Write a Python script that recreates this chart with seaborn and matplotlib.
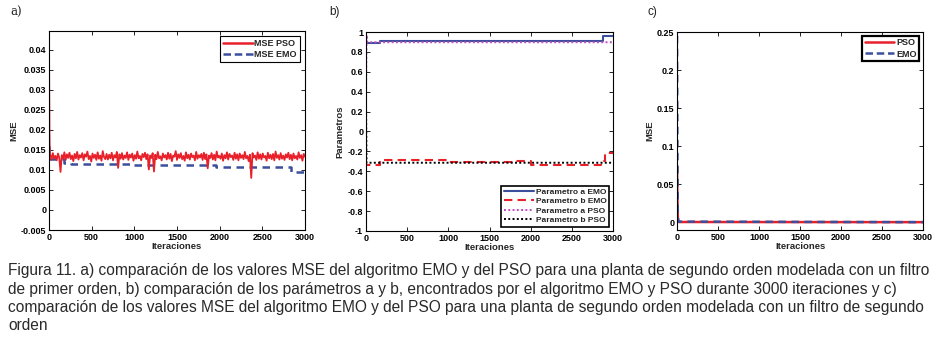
import numpy as np
import pandas as pd
import matplotlib
matplotlib.use("Agg")
import matplotlib.pyplot as plt
from matplotlib.lines import Line2D
from matplotlib.ticker import FuncFormatter, MultipleLocator
import seaborn as sns

# ---------------- data ----------------
# panel a) MSE, first-order filter
pso_a_start_iter = [0, 3, 6, 10]
pso_a_start_mse = [0.041, 0.030, 0.018, 0.0135]
pso_a_noise_e4 = [
    138, 126, 142, 129, 135, 124, 141, 131, 95, 137, 128, 144, 125, 139, 130, 143, 127, 136, 122, 140,
    129, 145, 126, 137, 131, 142, 124, 139, 133, 146, 127, 135, 121, 141, 130, 138, 125, 144, 128, 136,
    123, 147, 132, 127, 140, 126, 138, 129, 143, 124, 137, 131, 145, 105, 139, 128, 142, 126, 136, 130,
    144, 125, 138, 131, 141, 123, 137, 128, 146, 129, 135, 124, 140, 132, 143, 127, 139, 101, 136, 130,
    142, 96, 138, 127, 145, 129, 134, 124, 141, 131, 137, 126, 143, 128, 140, 122, 136, 133, 147, 125,
    139, 130, 142, 127, 135, 123, 144, 129, 138, 126, 141, 132, 136, 124, 145, 128, 137, 131, 140, 125,
    143, 127, 139, 104, 136, 130, 142, 126, 138, 124, 146, 131, 135, 128, 141, 123, 137, 129, 144, 126,
    140, 132, 136, 125, 143, 128, 139, 124, 141, 130, 137, 127, 145, 129, 135, 122, 138, 80, 142, 131,
    136, 125, 144, 128, 139, 126, 141, 131, 135, 123, 143, 129, 138, 127, 140, 124, 146, 130, 137, 126,
    142, 128, 136, 125, 139, 131, 143, 127, 138, 124, 141, 129, 135, 126, 144, 130, 137, 123, 140, 133,
]
emo_a_iter = [0, 5, 170, 260, 1000, 1960, 2840, 3000]
emo_a_mse = [0.0160, 0.0128, 0.0117, 0.0114, 0.0112, 0.0108, 0.0094, 0.0094]

# panel b) parameters
par_a_emo_iter = [0, 3, 170, 2880, 3000]
par_a_emo_val = [0.97, 0.885, 0.908, 0.962, 0.962]
par_b_emo_iter = [0, 3, 170, 1000, 1800, 2000, 2850, 2900, 3000]
par_b_emo_val = [-0.30, -0.332, -0.288, -0.31, -0.300, -0.332, -0.30, -0.22, -0.22]
par_a_pso_iter = [0, 6, 15, 3000]
par_a_pso_val = [0.30, 0.97, 0.897, 0.897]
par_b_pso_iter = [0, 6, 3000]
par_b_pso_val = [0.30, -0.314, -0.314]

# panel c) MSE, second-order filter
pso_c_iter = [0, 5, 10, 20, 3000]
pso_c_mse = [0.075, 0.030, 0.005, 0.0005, 0.0003]
emo_c_iter = [0, 4, 8, 15, 3000]
emo_c_mse = [0.245, 0.120, 0.020, 0.001, 0.0003]

caption_lines = [
    "Figura 11. a) comparación de los valores MSE del algoritmo EMO y del PSO para una planta de segundo orden modelada con un filtro",
    "de primer orden, b) comparación de los parámetros a y b, encontrados por el algoritmo EMO y PSO durante 3000 iteraciones y c)",
    "comparación de los valores MSE del algoritmo EMO y del PSO para una planta de segundo orden modelada con un filtro de segundo",
    "orden",
]

# ---------------- style ----------------
sns.set_style("ticks")
plt.rcParams['font.family'] = ['Liberation Sans', 'DejaVu Sans']
plt.rcParams['font.weight'] = 'bold'

RED = '#e8202a'
BLUE = '#3b4f9c'
PINK = '#c04cc0'

W, H = 936, 350
fig = plt.figure(figsize=(W / 100, H / 100), dpi=100)


def box(x0, y0, x1, y1):
    return [x0 / W, 1 - y1 / H, (x1 - x0) / W, (y1 - y0) / H]


fmt = FuncFormatter(lambda v, p: ('%g' % round(v, 6)))


def style_ax(ax, ylabel):
    ax.set_xlim(0, 3000)
    ax.xaxis.set_major_locator(MultipleLocator(500))
    ax.yaxis.set_major_formatter(fmt)
    ax.tick_params(direction='in', top=True, right=True, length=3, width=0.6,
                   labelsize=6.5, pad=2, colors='black')
    for lab in ax.get_xticklabels() + ax.get_yticklabels():
        lab.set_fontweight('bold')
    for s in ax.spines.values():
        s.set_visible(True)
        s.set_linewidth(0.8)
        s.set_color('black')
    ax.set_xlabel('Iteraciones', fontsize=6.8, fontweight='bold', labelpad=0)
    ax.set_ylabel(ylabel, fontsize=6.8, fontweight='bold', labelpad=2)


# ---- panel a
axa = fig.add_axes(box(49, 31, 305, 230))
pso_iter = list(pso_a_start_iter) + list(np.arange(15, 3001, 15))
pso_val = list(pso_a_start_mse) + [v * 1e-4 for v in pso_a_noise_e4]
sns.lineplot(x=emo_a_iter, y=emo_a_mse, ax=axa, color=BLUE, lw=1.8,
             linestyle=(0, (3, 2.2)), drawstyle='steps-post', estimator=None)
sns.lineplot(x=pso_iter, y=pso_val, ax=axa, color=RED, lw=1.3, estimator=None)
axa.yaxis.set_major_locator(MultipleLocator(0.005))
style_ax(axa, 'MSE')
axa.set_ylim(-0.005, 0.0447)
ha = [Line2D([], [], color=RED, lw=1.8), Line2D([], [], color=BLUE, lw=1.8, linestyle=(0, (3, 1.5)))]
lga = axa.legend(ha, ['MSE PSO', 'MSE EMO'], loc='upper right', handlelength=3.3,
                 handletextpad=0.2, borderpad=0.3, labelspacing=0.25, fancybox=False,
                 edgecolor='black', framealpha=1, borderaxespad=0.6, prop={'weight': 'bold', 'size': 6.5})
lga.get_frame().set_linewidth(0.8)

# ---- panel b
axb = fig.add_axes(box(366, 32, 613, 231))
sns.lineplot(x=par_a_emo_iter, y=par_a_emo_val, ax=axb, color=BLUE, lw=1.5,
             drawstyle='steps-post', estimator=None)
sns.lineplot(x=par_b_emo_iter, y=par_b_emo_val, ax=axb, color=RED, lw=1.5,
             linestyle=(0, (4, 2.5)), drawstyle='steps-post', estimator=None)
sns.lineplot(x=par_a_pso_iter, y=par_a_pso_val, ax=axb, color=PINK, lw=1.4,
             linestyle=(0, (1, 1.2)), estimator=None)
sns.lineplot(x=par_b_pso_iter, y=par_b_pso_val, ax=axb, color='black', lw=1.4,
             linestyle=(0, (1, 1.2)), estimator=None)
axb.yaxis.set_major_locator(MultipleLocator(0.2))
style_ax(axb, 'Parametros')
axb.set_ylim(-1, 1)
hb = [Line2D([], [], color=BLUE, lw=1.5),
      Line2D([], [], color=RED, lw=1.5, linestyle=(0, (4, 2.5))),
      Line2D([], [], color=PINK, lw=1.4, linestyle=(0, (1, 1.2))),
      Line2D([], [], color='black', lw=1.4, linestyle=(0, (1, 1.2)))]
lgb = axb.legend(hb, ['Parametro a EMO', 'Parametro b EMO', 'Parametro a PSO', 'Parametro b PSO'],
                 loc='lower right', handlelength=3.6, handletextpad=0.2, borderpad=0.3,
                 labelspacing=0.2, fancybox=False, edgecolor='black', framealpha=1,
                 borderaxespad=0.5, prop={'weight': 'bold', 'size': 6.0})
lgb.get_frame().set_linewidth(1.2)

# ---- panel c
axc = fig.add_axes(box(677, 32, 923, 230))
sns.lineplot(x=pso_c_iter, y=pso_c_mse, ax=axc, color=RED, lw=1.8, estimator=None)
sns.lineplot(x=emo_c_iter, y=emo_c_mse, ax=axc, color=BLUE, lw=1.8,
             linestyle=(0, (3, 2.2)), estimator=None)
axc.yaxis.set_major_locator(MultipleLocator(0.05))
style_ax(axc, 'MSE')
axc.set_ylim(-0.01, 0.25)
hc = [Line2D([], [], color=RED, lw=1.8), Line2D([], [], color=BLUE, lw=1.8, linestyle=(0, (3, 1.5)))]
lgc = axc.legend(hc, ['PSO', 'EMO'], loc='upper right', handlelength=3.3, handletextpad=0.2,
                 borderpad=0.3, labelspacing=0.25, fancybox=False, edgecolor='black',
                 framealpha=1, borderaxespad=0.4, prop={'weight': 'bold', 'size': 6.5})
lgc.get_frame().set_linewidth(1.6)

# panel letters
fig.text(10 / W, 1 - 12 / H, 'a)', fontsize=8.5, fontweight='normal', family='DejaVu Serif',
         va='center', ha='left', color='#222222')
fig.text(329 / W, 1 - 12 / H, 'b)', fontsize=8.5, fontweight='normal', va='center', ha='left',
         color='#222222')
fig.text(648 / W, 1 - 12 / H, 'c)', fontsize=8.5, fontweight='normal', va='center', ha='left',
         color='#222222')

# caption
for i, line in enumerate(caption_lines):
    fig.text(8 / W, 1 - (271 + 18.3 * i) / H, line, fontsize=11.2, fontweight='normal',
             family=['Liberation Sans', 'DejaVu Sans'],
             va='center', ha='left', color='#2a2a2a')

fig.savefig('out.png', dpi=100)
